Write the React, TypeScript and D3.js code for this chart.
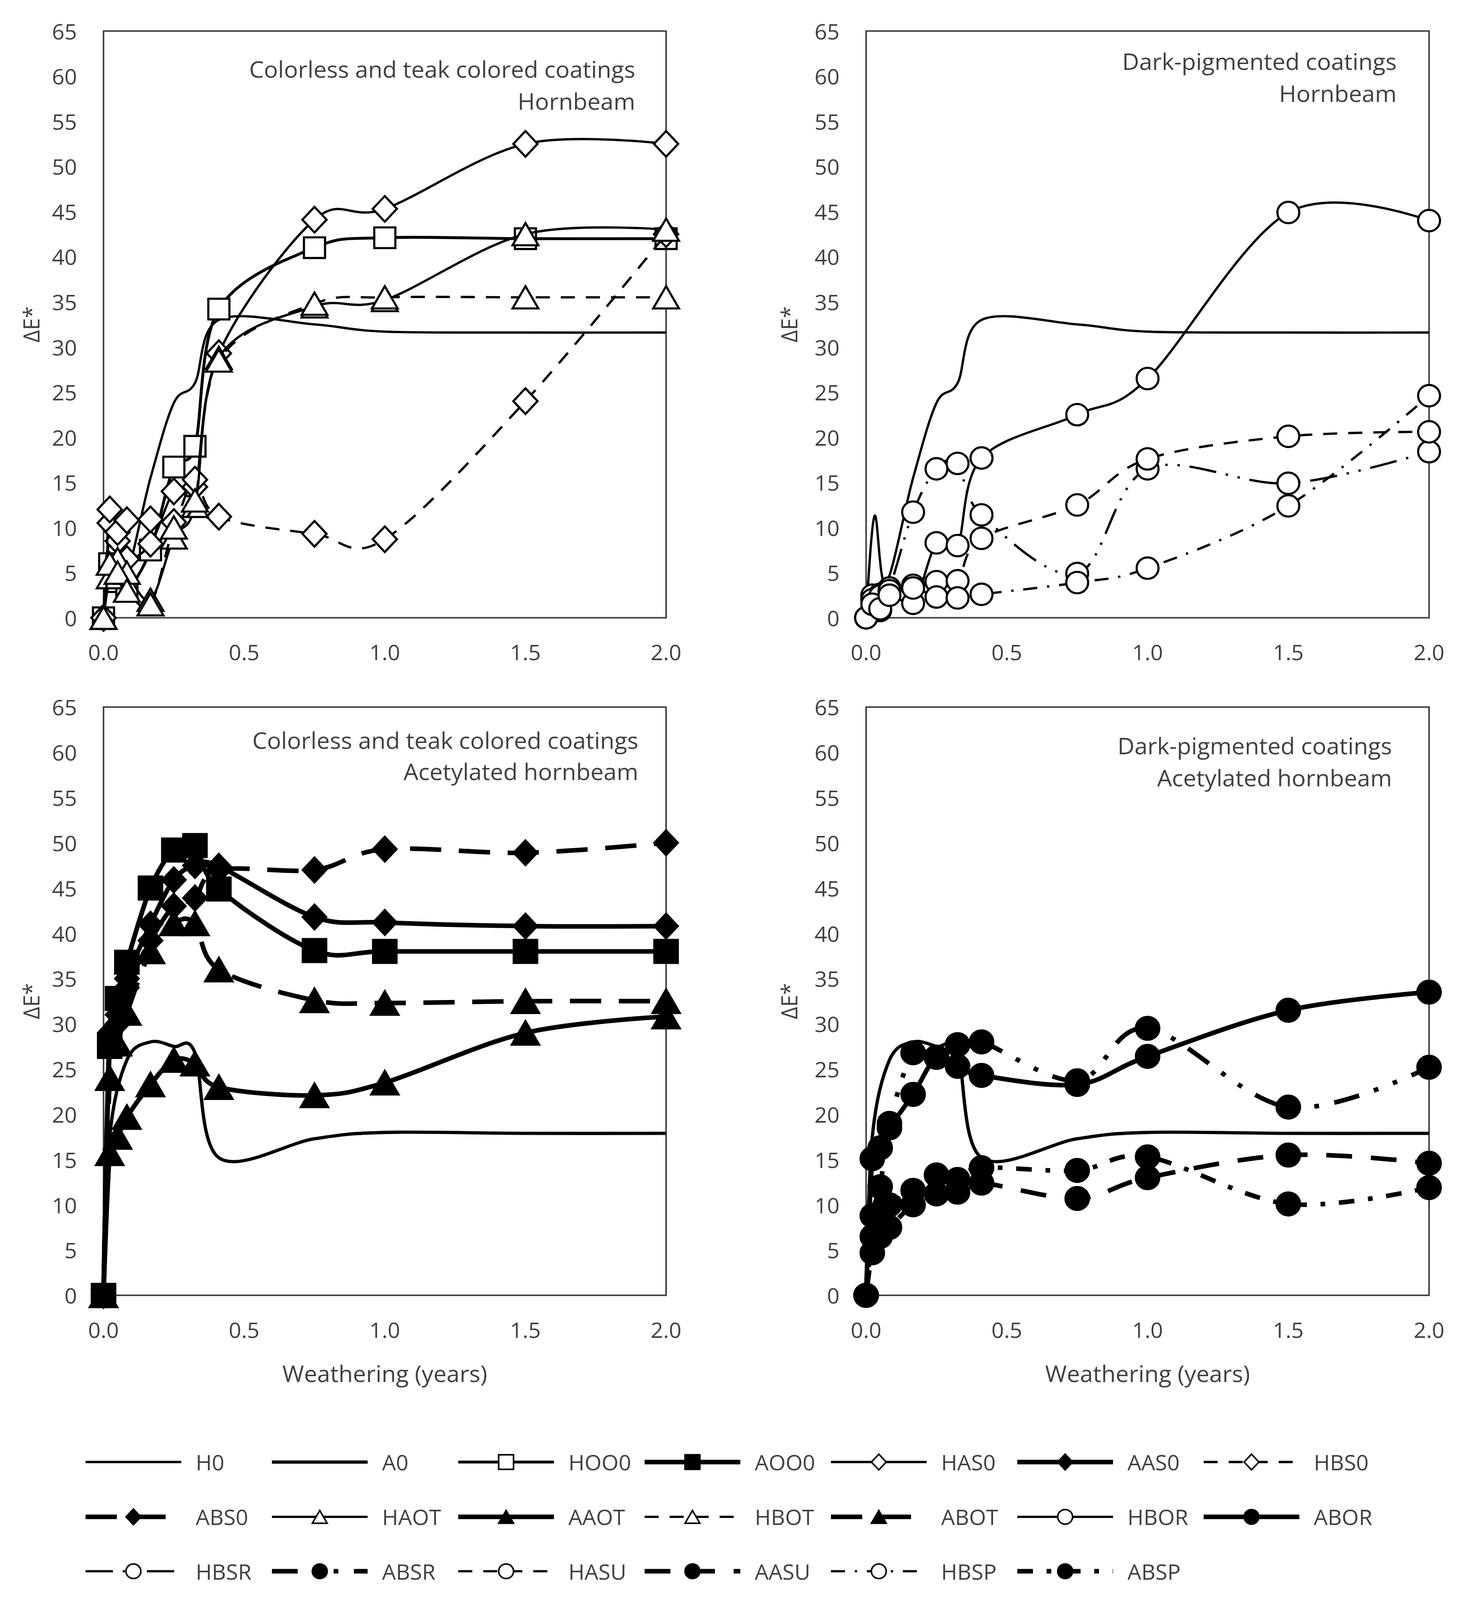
import React from "react";
import * as d3 from "d3";

const W = 3750;
const H = 4175;

// weathering times (years) shared by the coated series
const X = [0, 0.022, 0.05, 0.083, 0.167, 0.25, 0.325, 0.41, 0.75, 1, 1.5, 2];

// uncoated references (own sampling)
const H0_X = [0, 0.03, 0.07, 0.167, 0.25, 0.325, 0.41, 0.75, 1, 1.5, 2];
const H0_Y = [0, 11.3, 3.8, 15.5, 23.8, 26, 33, 32.5, 31.7, 31.6, 31.6];
const A0_X = [0, 0.022, 0.083, 0.167, 0.25, 0.325, 0.41, 0.75, 1, 1.5, 2];
const A0_Y = [0, 17.5, 26, 28, 27.5, 26.8, 15.2, 17.3, 18, 17.9, 17.9];

// hornbeam, colorless / teak
const HOO0 = [0, 6, 4, 3, 7.5, 16.7, 19, 34.2, 41, 42.1, 42, 42];
const HAS0 = [0, 10.5, 8.5, 6.5, 8.2, 14, 14.5, 29.3, 44.1, 45.3, 52.5, 52.5];
const HBS0 = [0, 12, 9.5, 10.8, 10.9, 10.6, 15.3, 11.2, 9.3, 8.7, 24, 42.5];
const HAOT = [0, 4.5, 6.5, 5, 2, 8.9, 12.4, 28.8, 34.5, 35.2, 42.5, 43];
const HBOT = [0, 6, 5, 3, 1.5, 10, 13, 28.5, 34.8, 35.5, 35.5, 35.5];

// hornbeam, dark pigmented
const HBOR = [0, 2.2, 0.8, 3.0, 1.6, 8.3, 8.0, 17.7, 22.5, 26.5, 44.9, 44.0];
const HBSR = [0, 2.5, 2.6, 3.3, 11.7, 16.5, 17.1, 11.4, 4.9, 16.5, 14.9, 18.4];
const HASU = [0, 2.0, 2.4, 3.0, 3.6, 4.0, 4.1, 8.8, 12.5, 17.6, 20.1, 20.6];
const HBSP = [0, 1.5, 1.0, 2.5, 3.3, 2.3, 2.2, 2.6, 3.9, 5.5, 12.4, 24.6];

// acetylated hornbeam, colorless / teak
const AOO0 = [0, 27.5, 32.8, 36.8, 45, 49.2, 49.7, 44.9, 38.1, 38, 38, 38];
const AAS0 = [0, 29, 31, 35, 41, 45.9, 47.5, 47.4, 41.8, 41.2, 40.8, 40.8];
const ABS0 = [0, 28, 30, 34, 39.2, 43, 43.9, 47, 47, 49.3, 48.9, 50];
const AAOT = [0, 15.7, 17.5, 19.7, 23.3, 26, 25.6, 23, 22.1, 23.5, 29, 30.8];
const ABOT = [0, 24, 27.8, 31.2, 38, 41.1, 41.1, 36, 32.6, 32.3, 32.5, 32.5];

// acetylated hornbeam, dark pigmented
const ABOR = [0, 15.1, 16.3, 18.5, 22.2, 26.3, 25.3, 24.3, 23.3, 26.4, 31.5, 33.5];
const ABSR = [0, 8.8, 12.0, 19.0, 26.8, 26.3, 27.7, 28.0, 23.7, 29.5, 20.8, 25.2];
const AASU = [0, 4.7, 6.5, 7.5, 10.0, 11.2, 11.4, 12.4, 10.7, 13.0, 15.5, 14.6];
const ABSP = [0, 6.5, 8.8, 10.0, 11.6, 13.3, 12.8, 14.1, 13.8, 15.3, 10.1, 11.9];

const Y_TICKS = d3.range(0, 66, 5);
const X_TICKS = [0, 0.5, 1, 1.5, 2];

const LEGEND = [
  "H0", "A0", "HOO0", "AOO0", "HAS0", "AAS0", "HBS0",
  "ABS0", "HAOT", "AAOT", "HBOT", "ABOT", "HBOR", "ABOR",
  "HBSR", "ABSR", "HASU", "AASU", "HBSP", "ABSP",
];

const SERIES: Record<string, { x: number[]; y: number[] }> = {
  H0: { x: H0_X, y: H0_Y },
  A0: { x: A0_X, y: A0_Y },
  HOO0: { x: X, y: HOO0 },
  HAS0: { x: X, y: HAS0 },
  HBS0: { x: X, y: HBS0 },
  HAOT: { x: X, y: HAOT },
  HBOT: { x: X, y: HBOT },
  HBOR: { x: X, y: HBOR },
  HBSR: { x: X, y: HBSR },
  HASU: { x: X, y: HASU },
  HBSP: { x: X, y: HBSP },
  AOO0: { x: X, y: AOO0 },
  AAS0: { x: X, y: AAS0 },
  ABS0: { x: X, y: ABS0 },
  AAOT: { x: X, y: AAOT },
  ABOT: { x: X, y: ABOT },
  ABOR: { x: X, y: ABOR },
  ABSR: { x: X, y: ABSR },
  AASU: { x: X, y: AASU },
  ABSP: { x: X, y: ABSP },
};

type Marker = "none" | "square" | "diamond" | "triangle" | "circle";
interface Style {
  marker: Marker;
  filled: boolean;
  width: number;
  dash: string | null;
  size: number;
}

const THIN = 6;
const THICK = 12;

const STYLES: Record<string, Style> = {
  H0: { marker: "none", filled: false, width: THIN, dash: null, size: 0 },
  A0: { marker: "none", filled: false, width: 8.5, dash: null, size: 0 },
  HOO0: { marker: "square", filled: false, width: 7.5, dash: null, size: 54 },
  AOO0: { marker: "square", filled: true, width: THICK, dash: null, size: 60 },
  HAS0: { marker: "diamond", filled: false, width: THIN, dash: null, size: 62 },
  AAS0: { marker: "diamond", filled: true, width: THICK, dash: null, size: 60 },
  HBS0: { marker: "diamond", filled: false, width: THIN, dash: "36 28", size: 62 },
  ABS0: { marker: "diamond", filled: true, width: THICK, dash: "80 45", size: 60 },
  HAOT: { marker: "triangle", filled: false, width: THIN, dash: null, size: 66 },
  AAOT: { marker: "triangle", filled: true, width: THICK, dash: null, size: 70 },
  HBOT: { marker: "triangle", filled: false, width: THIN, dash: "36 28", size: 66 },
  ABOT: { marker: "triangle", filled: true, width: THICK, dash: "80 45", size: 70 },
  HBOR: { marker: "circle", filled: false, width: THIN, dash: null, size: 56 },
  ABOR: { marker: "circle", filled: true, width: THICK, dash: null, size: 60 },
  HBSR: { marker: "circle", filled: false, width: THIN, dash: "70 25 6 25 6 25", size: 56 },
  ABSR: { marker: "circle", filled: true, width: THICK, dash: "66 40 12 40 12 40", size: 60 },
  HASU: { marker: "circle", filled: false, width: THIN, dash: "36 28", size: 56 },
  AASU: { marker: "circle", filled: true, width: THICK, dash: "66 48", size: 60 },
  HBSP: { marker: "circle", filled: false, width: THIN, dash: "36 25 6 25", size: 56 },
  ABSP: { marker: "circle", filled: true, width: THICK, dash: "40 35 12 35", size: 60 },
};

const PANELS = [
  {
    left: 265, top: 81, right: 1705, bottom: 1612,
    series: ["H0", "HOO0", "HAS0", "HBS0", "HAOT", "HBOT"],
    note: ["Colorless and teak colored coatings", "Hornbeam"],
    noteRight: 1626, noteY: [179, 263], yTitleX: 79, xTitle: false,
  },
  {
    left: 2217, top: 81, right: 3658, bottom: 1612,
    series: ["H0", "HBOR", "HBSR", "HASU", "HBSP"],
    note: ["Dark-pigmented coatings", "Hornbeam"],
    noteRight: 3575, noteY: [159, 242], yTitleX: 2019, xTitle: false,
  },
  {
    left: 265, top: 1845, right: 1705, bottom: 3380,
    series: ["A0", "AOO0", "AAS0", "ABS0", "AAOT", "ABOT"],
    note: ["Colorless and teak colored coatings", "Acetylated hornbeam"],
    noteRight: 1634, noteY: [1930, 2012], yTitleX: 79, xTitle: true,
  },
  {
    left: 2217, top: 1845, right: 3658, bottom: 3380,
    series: ["A0", "ABOR", "ABSR", "AASU", "ABSP"],
    note: ["Dark-pigmented coatings", "Acetylated hornbeam"],
    noteRight: 3563, noteY: [1945, 2028], yTitleX: 2019, xTitle: true,
  },
];

const TEXT = "#404040";
const FONT = "'Open Sans', sans-serif";

function markerPath(m: Marker, s: number): string {
  switch (m) {
    case "square": {
      const h = s / 2;
      return `M${-h},${-h}H${h}V${h}H${-h}Z`;
    }
    case "diamond": {
      const a = s / 2;
      const b = s * 0.54;
      return `M0,${-b}L${a},0L0,${b}L${-a},0Z`;
    }
    case "triangle": {
      const w = s / 2;
      const t = s * 0.44;
      return `M0,${-t}L${w},${t}L${-w},${t}Z`;
    }
    case "circle": {
      const r = s / 2;
      return `M${r},0A${r},${r} 0 1,1 ${-r},0A${r},${r} 0 1,1 ${r},0Z`;
    }
    default:
      return "";
  }
}

const Panel: React.FC<{ p: (typeof PANELS)[number] }> = ({ p }) => {
  const xScale = d3.scaleLinear().domain([0, 2]).range([p.left, p.right]);
  const yScale = d3.scaleLinear().domain([0, 65]).range([p.bottom, p.top]);
  const midY = (p.top + p.bottom) / 2;
  const midX = (p.left + p.right) / 2;

  return (
    <g>
      {Y_TICKS.map((t) => (
        <text
          key={`y${t}`}
          x={p.left - 68}
          y={yScale(t)}
          textAnchor="end"
          dominantBaseline="central"
          fontSize={56}
          fill={TEXT}
        >
          {t}
        </text>
      ))}
      {X_TICKS.map((t) => (
        <text
          key={`x${t}`}
          x={xScale(t)}
          y={p.bottom + 89}
          textAnchor="middle"
          dominantBaseline="central"
          fontSize={56}
          fill={TEXT}
        >
          {d3.format(".1f")(t)}
        </text>
      ))}
      <text
        transform={`translate(${p.yTitleX},${midY}) rotate(-90)`}
        textAnchor="middle"
        dominantBaseline="central"
        fontSize={56}
        fill={TEXT}
      >
        ΔE*
      </text>
      {p.xTitle && (
        <text
          x={midX}
          y={p.bottom + 203}
          textAnchor="middle"
          dominantBaseline="central"
          fontSize={60}
          fill={TEXT}
        >
          Weathering (years)
        </text>
      )}
      <rect
        x={p.left}
        y={p.top}
        width={p.right - p.left}
        height={p.bottom - p.top}
        fill="none"
        stroke="#404040"
        strokeWidth={4}
      />
      {p.note.map((n, i) => (
        <text
          key={n}
          x={p.noteRight}
          y={p.noteY[i]}
          textAnchor="end"
          dominantBaseline="central"
          fontSize={60}
          fill={TEXT}
        >
          {n}
        </text>
      ))}
      {p.series.map((name) => {
        const s = SERIES[name];
        const st = STYLES[name];
        const line = d3
          .line<number>()
          .x((_, i) => xScale(s.x[i]))
          .y((d) => yScale(d))
          .curve(d3.curveCardinal.tension(0));
        const mp = markerPath(st.marker, st.size);
        return (
          <g key={name}>
            <path
              d={line(s.y) || ""}
              fill="none"
              stroke="#000"
              strokeWidth={st.width}
              strokeDasharray={st.dash || undefined}
              strokeLinejoin="round"
            />
            {st.marker !== "none" &&
              s.y.map((v, i) => (
                <path
                  key={i}
                  d={mp}
                  transform={`translate(${xScale(s.x[i])},${yScale(v)})`}
                  fill={st.filled ? "#000" : "#fff"}
                  stroke="#000"
                  strokeWidth={5.5}
                  strokeLinejoin="miter"
                />
              ))}
          </g>
        );
      })}
    </g>
  );
};

const LEG_X0 = 219;
const LEG_STEP = 477;
const LEG_ROWS = [3815, 3958, 4100];
const LEG_LEN = 245;

const Legend: React.FC = () => (
  <g>
    {LEGEND.map((name, i) => {
      const st = STYLES[name];
      const x = LEG_X0 + (i % 7) * LEG_STEP;
      const y = LEG_ROWS[Math.floor(i / 7)];
      return (
        <g key={name}>
          <line
            x1={x}
            x2={x + LEG_LEN}
            y1={y}
            y2={y}
            stroke="#000"
            strokeWidth={st.width}
            strokeDasharray={st.dash || undefined}
          />
          {st.marker !== "none" && (
            <path
              d={markerPath(st.marker, 38)}
              transform={`translate(${x + LEG_LEN / 2},${y})`}
              fill={st.filled ? "#000" : "#fff"}
              stroke="#000"
              strokeWidth={4}
            />
          )}
          <text
            x={x + 282}
            y={y}
            dominantBaseline="central"
            fontSize={56}
            fill={TEXT}
          >
            {name}
          </text>
        </g>
      );
    })}
  </g>
);

export default function App() {
  return (
    <svg
      viewBox={`0 0 ${W} ${H}`}
      preserveAspectRatio="none"
      style={{
        position: "fixed",
        left: 0,
        top: 0,
        width: "100vw",
        height: "100vh",
        background: "#fff",
      }}
      fontFamily={FONT}
    >
      <rect width={W} height={H} fill="#fff" />
      {PANELS.map((p, i) => (
        <Panel key={i} p={p} />
      ))}
      <Legend />
    </svg>
  );
}
